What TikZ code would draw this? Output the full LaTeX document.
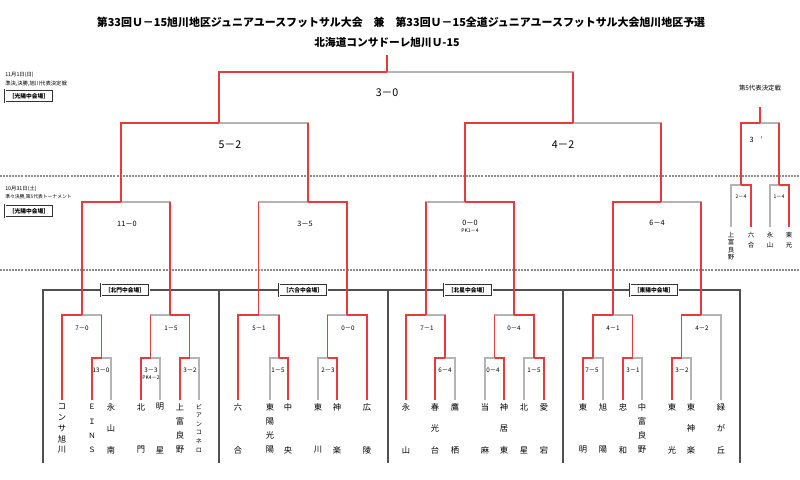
\documentclass[tikz,border=0pt]{standalone}
\usepackage{fontspec}
\setmainfont{Noto Sans CJK JP}
\usetikzlibrary{calc}
\definecolor{winred}{HTML}{E63A3F}
\definecolor{losegray}{HTML}{B4B4B4}
\definecolor{framegray}{HTML}{505050}
\tikzset{
  lose/.style={draw=losegray, line width=0.8pt},
  win/.style={draw=winred, line width=1.1pt},
  frame/.style={draw=framegray, line width=0.9pt},
  sepline/.style={draw=black!45, line width=1pt, dash pattern=on 1.5pt off 0.8pt},
  venue/.style={draw=black!80, double=white, double distance=0.6pt, line width=0.45pt,
                fill=white, inner sep=1.5pt, minimum width=36pt, minimum height=9.5pt,
                font=\fontsize{4.3}{5}\selectfont\bfseries},
  bigscore/.style={font=\fontsize{8}{9}\selectfont},
  midscore/.style={font=\fontsize{5.5}{6}\selectfont},
  score/.style={font=\fontsize{4.7}{5}\selectfont},
  pk/.style={font=\fontsize{3.8}{4}\selectfont},
  tname/.style={font=\fontsize{6.2}{7}\selectfont, inner sep=0pt},
  small/.style={font=\fontsize{4.8}{5}\selectfont},
  note/.style={font=\fontsize{4}{5}\selectfont, anchor=west, inner sep=0pt},
}
% vertical team name: [style]{name}{x}{first y}{step}{characters}
\newcommand{\vname}[6][]{\foreach \ch [count=\k] in {#6}
  \node[tname,#1] (#2-\k) at (#3,{#4+(\k-1)*#5}) {\ch};}
% bout: {name}{left}{right}{x}{y}, drawn grey first
\newcommand{\bout}[5]{\coordinate (#1) at (#4,#5);
  \draw[lose] (#2) |- (#1) -| (#3);}

\begin{document}
\begin{tikzpicture}[x=0.75pt,y=-0.75pt]
\useasboundingbox (0,0) rectangle (800,479);

% titles
\node[font=\fontsize{8.2}{10}\selectfont\bfseries] (title) at (401,22)
  {第33回Ｕ－15旭川地区ジュニアユースフットサル大会　兼　第33回Ｕ－15全道ジュニアユースフットサル大会旭川地区予選};
\node[font=\fontsize{8}{10}\selectfont\bfseries] (champ) at (387,42) {北海道コンサドーレ旭川Ｕ-15};

% day labels
\node[note] (day1) at (5,75) {11月1日(日)};
\node[note] (day1b) at (5,84) {準決,決勝,旭川代表決定戦};
\node[venue] (hall1) at (29,96) {［光陽中会場］};
\node[note] (day2) at (5,189) {10月31日(土)};
\node[note, font=\fontsize{3.6}{4}\selectfont] (day2b) at (5,197) {準々決勝,第5代表トーナメント};
\node[venue] (hall2) at (29,211) {［光陽中会場］};
\node[small] (fifth) at (760,88) {第5代表決定戦};

\draw[sepline] (0,176) -- (800,176);
\draw[sepline] (0,270) -- (800,270);

% group frames
\draw[frame] (43,463) -- (43,290) -- (740,290) -- (740,463);
\foreach \x in {219,388,563} \draw[frame] (\x,290) -- (\x,463);
\node[venue] (hallA) at (125,290) {［北門中会場］};
\node[venue] (hallB) at (303,290) {［六合中会場］};
\node[venue] (hallC) at (468,290) {［北星中会場］};
\node[venue] (hallD) at (654,290) {［東陽中会場］};

% team stems
\foreach \n/\x in {g1a/62,g1b/92,g1c/111,g1d/141,g1e/160,g1f/180,g1g/199,
                   g2a/238,g2b/270,g2c/288,g2d/318,g2e/337,g2f/367,
                   g3a/406,g3b/435,g3c/455,g3d/485,g3e/504,g3f/524,g3g/544,
                   g4a/583,g4b/603,g4c/623,g4d/642,g4e/672,g4f/691,g4g/721}
  \coordinate (\n) at (\x,400);
\foreach \n/\x in {r1/731,r2/751,r3/770,r4/789} \coordinate (\n) at (\x,227);
\coordinate (top) at (387,55);
\coordinate (top5) at (760,107);

% first round
\bout{m1}{g1b}{g1c}{101.5}{358} \bout{m2}{g1d}{g1e}{150.5}{358} \bout{m3}{g1f}{g1g}{189.5}{358}
\bout{m4}{g2b}{g2c}{279}{358}   \bout{m5}{g2d}{g2e}{327.5}{358}
\bout{m6}{g3b}{g3c}{445}{358}   \bout{m7}{g3d}{g3e}{494.5}{358} \bout{m8}{g3f}{g3g}{534}{358}
\bout{m9}{g4a}{g4b}{593}{358}   \bout{m10}{g4c}{g4d}{632.5}{358} \bout{m11}{g4e}{g4f}{681.5}{358}
% second round
\bout{n1}{g1a}{m1}{82}{315}  \bout{n2}{m2}{m3}{170}{315}
\bout{n3}{g2a}{m4}{258.5}{315} \bout{n4}{m5}{g2f}{347}{315}
\bout{n5}{g3a}{m6}{426}{315} \bout{n6}{m7}{m8}{514}{315}
\bout{n7}{m9}{m10}{613}{315} \bout{n8}{m11}{g4g}{701}{315}
% quarter finals
\bout{q1}{n1}{n2}{121}{202} \bout{q2}{n3}{n4}{308}{202}
\bout{q3}{n5}{n6}{465}{202} \bout{q4}{n7}{n8}{661}{202}
% semi finals and final
\bout{s1}{q1}{q2}{219}{123} \bout{s2}{q3}{q4}{573}{123}
\bout{fin}{s1}{s2}{387}{72}
% fifth place
\bout{p1}{r1}{r2}{741}{185} \bout{p2}{r3}{r4}{779}{185}
\bout{p3}{p1}{p2}{760}{123}

% winners in red
\draw[win] (g1a) |- (n1); \draw[win] (g1b) |- (m1); \draw[win] (m1) -- (m1 |- n1);
\draw[win] (g1d) |- (m2); \draw[win] (g1f) |- (m3);
\draw[win] (m2) -- (m2 |- n2); \draw[win] (m3) |- (n2);
\draw[win] (n1) |- (q1); \draw[win] (n2) -- (n2 |- q1);

\draw[win] (g2a) |- (n3); \draw[win] (g2c) |- (m4); \draw[win] (m4) -- (m4 |- n3);
\draw[win] (g2e) |- (m5); \draw[win] (m5) -- (m5 |- n4); \draw[win] (g2f) |- (n4);
\draw[win] (n4) |- (q2); \draw[win] (n3) -- (n3 |- q2);

\draw[win] (g3a) |- (n5); \draw[win] (g3b) |- (m6); \draw[win] (m6) -- (m6 |- n5);
\draw[win] (g3e) |- (m7); \draw[win] (g3g) |- (m8);
\draw[win] (m8) |- (n6); \draw[win] (m7) -- (m7 |- n6);
\draw[win] (n6) |- (q3); \draw[win] (n5) -- (n5 |- q3);

\draw[win] (g4a) |- (m9); \draw[win] (g4c) |- (m10);
\draw[win] (m9) |- (n7); \draw[win] (m10) -- (m10 |- n7);
\draw[win] (g4e) |- (m11); \draw[win] (m11) |- (n8);
\draw[win] (n7) |- (q4); \draw[win] (n8) -- (n8 |- q4);

\draw[win] (q1) |- (s1); \draw[win] (q2) -- (q2 |- s1);
\draw[win] (q3) |- (s2); \draw[win] (q4) -- (q4 |- s2);
\draw[win] (s1) |- (fin); \draw[win] (s2) -- (s2 |- fin);
\draw[win] (fin) -- (top);

\draw[win] (r2) |- (p1); \draw[win] (r4) |- (p2);
\draw[win] (p1) |- (p3); \draw[win] (p2) -- (p2 |- p3);
\draw[win] (p3) -- (top5);

% scores
\node[bigscore] (sc-fin) at (387,93) {3－0};
\node[bigscore] (sc-s1) at (230,145) {5－2};
\node[bigscore] (sc-s2) at (563,145) {4－2};
\node[midscore] (sc-q1) at (127,224) {11－0};
\node[midscore] (sc-q2) at (305,224) {3－5};
\node[midscore] (sc-q3) at (470,223) {0－0};
\node[pk] (pk-q3) at (470,231) {PK1－4};
\node[midscore] (sc-q4) at (657,223) {6－4};
\node[pk] (sc-p1) at (741,197) {2－4};
\node[pk] (sc-p2) at (779,197) {1－4};
\node[midscore] (sc-p3) at (756,140) {3\hspace{5pt}'};
\foreach \n/\x/\s in {n1/82/7－0, n2/171/1－5, n3/259/5－1, n4/348/0－0,
                      n5/427/7－1, n6/514/0－4, n7/613/4－1, n8/702/4－2}
  \node[score] (sc-\n) at (\x,328) {\s};
\foreach \n/\x/\s in {m1/101/13－0, m2/151/3－3, m3/190/3－2, m4/278/1－5, m5/328/2－3,
                      m6/445/6－4, m7/493/0－4, m8/534/1－5, m9/592/7－5, m10/633/3－1, m11/682/3－2}
  \node[score] (sc-\n) at (\x,370) {\s};
\node[pk] (pk-m2) at (151,378) {PK4－2};

% team names
\vname{g1a-n}{62}{407}{10.75}{コ,ン,サ,旭,川}
\vname[font=\fontsize{5.5}{6}\selectfont]{g1b-n}{92}{407}{14.33}{Ｅ,Ｉ,Ｎ,Ｓ}
\vname{g1c-n}{111}{407}{21.5}{永,山,南}
\vname{g1d-n}{141}{407}{43}{北,門}
\vname{g1e-n}{160}{407}{43}{明,星}
\vname{g1f-n}{180}{407}{14.33}{上,富,良,野}
\vname[font=\fontsize{4.6}{5}\selectfont]{g1g-n}{199}{407}{8.6}{ビ,ア,ン,コ,ネ,ロ}
\vname{g2a-n}{238}{407}{43}{六,合}
\vname{g2b-n}{270}{407}{14.33}{東,陽,光,陽}
\vname{g2c-n}{288}{407}{43}{中,央}
\vname{g2d-n}{318}{407}{43}{東,川}
\vname{g2e-n}{337}{407}{43}{神,楽}
\vname{g2f-n}{367}{407}{43}{広,陵}
\vname{g3a-n}{406}{407}{43}{永,山}
\vname{g3b-n}{435}{407}{21.5}{春,光,台}
\vname{g3c-n}{455}{407}{43}{鷹,栖}
\vname{g3d-n}{485}{407}{43}{当,麻}
\vname{g3e-n}{504}{407}{21.5}{神,居,東}
\vname{g3f-n}{524}{407}{43}{北,星}
\vname{g3g-n}{544}{407}{43}{愛,宕}
\vname{g4a-n}{583}{407}{43}{東,明}
\vname{g4b-n}{603}{407}{43}{旭,陽}
\vname{g4c-n}{623}{407}{43}{忠,和}
\vname{g4d-n}{642}{407}{14.33}{中,富,良,野}
\vname{g4e-n}{672}{407}{43}{東,光}
\vname{g4f-n}{691}{407}{21.5}{東,神,楽}
\vname{g4g-n}{721}{407}{21.5}{緑,が,丘}
\vname[small]{r1-n}{731}{235}{7.3}{上,富,良,野}
\vname[small]{r2-n}{751}{235}{10}{六,合}
\vname[small]{r3-n}{770}{235}{10}{永,山}
\vname[small]{r4-n}{789}{235}{10}{東,光}
\end{tikzpicture}
\end{document}
